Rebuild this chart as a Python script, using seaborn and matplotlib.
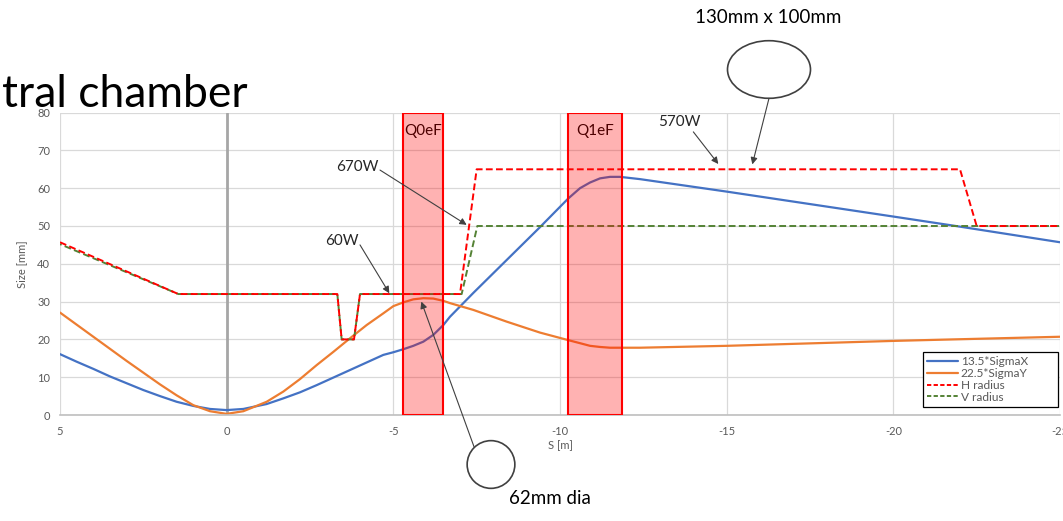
import matplotlib.pyplot as plt
import pandas as pd
import seaborn as sns
from matplotlib.lines import Line2D
from matplotlib.patches import Ellipse

# beam envelope (S in m, size in mm)
s_beam = [5, 4.5, 4, 3.5, 3, 2.5, 2, 1.5, 1, 0.5,
          0, -0.5, -1.2, -1.7, -2.2, -2.7, -3.2, -3.7, -4.2, -4.7,
          -5.0, -5.3, -5.6, -5.9, -6.2, -6.5, -6.7, -7.4, -8.4, -9.4,
          -10.25, -10.6, -10.9, -11.2, -11.5, -11.8, -12.4, -15, -20, -21.8,
          -25]
sigma_x = [16.1, 14.1, 12.2, 10.2, 8.4, 6.6, 5.0, 3.5, 2.4, 1.6,
           1.3, 1.6, 2.9, 4.4, 6.0, 7.9, 9.9, 11.9, 13.9, 15.9,
           16.6, 17.4, 18.3, 19.4, 21.2, 23.8, 26.0, 32.3, 41.0, 49.7,
           57.3, 60.0, 61.5, 62.6, 63.0, 63.0, 62.4, 59.1, 52.5, 50.1,
           45.7]
sigma_y = [27.1, 23.9, 20.7, 17.5, 14.3, 11.2, 8.1, 5.2, 2.6, 1.0,
           0.3, 1.0, 3.5, 6.2, 9.5, 13.2, 16.7, 20.3, 23.8, 26.9,
           28.8, 29.8, 30.6, 30.9, 30.8, 30.2, 29.6, 27.8, 24.7, 21.8,
           19.8, 19.0, 18.3, 18.0, 17.8, 17.8, 17.8, 18.3, 19.6, 20.0,
           20.7]

# beam pipe radius
s_h = [5, 1.45, -3.32, -3.45, -3.82, -4.0, -7.0, -7.5, -22.0, -22.5, -25]
h_radius = [45.7, 32, 32, 20, 20, 32, 32, 65, 65, 50, 50]
s_v = [5, 1.45, -3.32, -3.45, -3.82, -4.0, -7.05, -7.52, -25]
v_radius = [45.2, 32, 32, 20, 20, 32, 32, 50, 50]

# quadrupoles
quad_names = ["Q0eF", "Q1eF"]
quad_start = [-5.29, -10.24]
quad_end = [-6.49, -11.87]

x_ticks = [5, 0, -5, -10, -15, -20, -25]
y_ticks = [0, 10, 20, 30, 40, 50, 60, 70, 80]

series_names = ["13.5*SigmaX", "22.5*SigmaY", "H radius", "V radius"]
colors = ["#4472C4", "#ED7D31", "#FF0000", "#548235"]

sns.set_theme(style="whitegrid")
plt.rcParams["font.family"] = ["Lato", "DejaVu Sans"]
plt.rcParams["axes.unicode_minus"] = False

W, H = 1063, 521
fig = plt.figure(figsize=(W / 100, H / 100), dpi=100)
ax = fig.add_axes([60 / W, 1 - 415 / H, 1000 / W, 302.4 / H])

beam = pd.DataFrame({
    "S": s_beam + s_beam,
    "size": sigma_x + sigma_y,
    "series": [series_names[0]] * len(s_beam) + [series_names[1]] * len(s_beam),
})
sns.lineplot(data=beam, x="S", y="size", hue="series",
             palette={series_names[0]: colors[0], series_names[1]: colors[1]},
             estimator=None, sort=False, lw=1.6, legend=False, ax=ax, zorder=2)

sns.lineplot(x=s_v, y=v_radius, color=colors[3], lw=1.4, estimator=None,
             sort=False, ax=ax, zorder=2)
ax.lines[-1].set_linestyle((2.6, (3.5, 1.7)))
sns.lineplot(x=s_h, y=h_radius, color=colors[2], lw=1.4, estimator=None,
             sort=False, ax=ax, zorder=2)
ax.lines[-1].set_linestyle((0, (3.5, 1.7)))

# quadrupole blocks drawn over the curves
for name, a, b in zip(quad_names, quad_start, quad_end):
    ax.axvspan(a, b, facecolor=(1, 0, 0, 0.3), edgecolor="#FF0000", lw=1.5, zorder=3)
    ax.text((a + b) / 2, 75, name, ha="center", va="center", fontsize=11,
            color="black", zorder=2.5)

ax.axvline(0, color="#a6a6a6", lw=2, zorder=1.5)

ax.set_xlim(5, -25)
ax.set_ylim(0, 80)
ax.set_xticks(x_ticks)
ax.set_yticks(y_ticks)
ax.grid(color="#d9d9d9", lw=0.9)
for side in ["top", "right", "left"]:
    ax.spines[side].set_visible(False)
ax.spines["bottom"].set_color("#bfbfbf")
ax.spines["bottom"].set_linewidth(1.2)
ax.tick_params(length=0, labelsize=8, labelcolor="#595959")
ax.tick_params(axis="x", pad=8)
ax.tick_params(axis="y", pad=7)
ax.set_xlabel("S [m]", fontsize=8, color="#595959")
ax.set_ylabel("Size [mm]", fontsize=8, color="#595959")
ax.xaxis.set_label_coords(0.5, -0.083)
ax.yaxis.set_label_coords(-0.033, 0.5)

handles = [
    Line2D([], [], color=colors[0], lw=1.6),
    Line2D([], [], color=colors[1], lw=1.6),
    Line2D([], [], color=colors[2], lw=1.4, linestyle=(0, (2.2, 1.2))),
    Line2D([], [], color=colors[3], lw=1.4, linestyle=(0, (2.2, 1.2))),
]
leg = ax.legend(handles, series_names, loc="lower left",
                bbox_to_anchor=(0.863, 0.027, 0.1353, 0.2), mode="expand",
                borderaxespad=0, fontsize=8.6, frameon=True, fancybox=False,
                framealpha=1, edgecolor="black", handlelength=2.6,
                handletextpad=0.2, labelspacing=0.08, borderpad=0.35)
leg.get_frame().set_linewidth(0.9)
for t in leg.get_texts():
    t.set_color("#595959")
leg.set_zorder(6)

# callouts
arrow_kw = dict(arrowstyle="-|>", color="#404040", lw=0.8, mutation_scale=10,
                shrinkA=0, shrinkB=0)
ax.text(-3.91, 65.7, "670W", ha="center", va="center", fontsize=11, color="#262626")
ax.annotate("", xy=(-7.2, 50.3), xytext=(-4.6, 64.8), arrowprops=arrow_kw, zorder=5)
ax.text(-3.46, 46.0, "60W", ha="center", va="center", fontsize=11, color="#262626")
ax.annotate("", xy=(-4.88, 32.2), xytext=(-4.0, 45.0), arrowprops=arrow_kw, zorder=5)
ax.text(-13.59, 77.4, "570W", ha="center", va="center", fontsize=11, color="#262626")
ax.annotate("", xy=(-14.75, 66.4), xytext=(-14.0, 74.9), arrowprops=arrow_kw, zorder=5)

# pipe cross sections, placed in figure pixels
fig.text(768 / W, 1 - 17.5 / H, "130mm x 100mm", ha="center", va="center",
         fontsize=13.5, color="black")
fig.patches.append(Ellipse((769 / W, 1 - 69.5 / H), 83 / W, 57.6 / H, fill=False,
                           edgecolor="#404040", lw=1.2, transform=fig.transFigure))
ax.annotate("", xy=(-15.77, 66.3), xytext=(769 / W, 1 - 98.3 / H),
            textcoords="figure fraction", arrowprops=arrow_kw, zorder=5,
            annotation_clip=False)

fig.text(550 / W, 1 - 498 / H, "62mm dia", ha="center", va="center",
         fontsize=13.5, color="black")
fig.patches.append(Ellipse((491 / W, 1 - 464.5 / H), 47.7 / W, 47.7 / H, fill=False,
                           edgecolor="#404040", lw=1.2, transform=fig.transFigure))
ax.annotate("", xy=(-5.84, 30.0), xytext=(474 / W, 1 - 446.7 / H),
            textcoords="figure fraction", arrowprops=arrow_kw, zorder=5,
            annotation_clip=False)

# cropped slide title
fig.text(2 / W, 1 - 106.7 / H, "tral chamber", ha="left", va="baseline",
         fontsize=32, color="black")

fig.savefig("out.png", dpi=100)
